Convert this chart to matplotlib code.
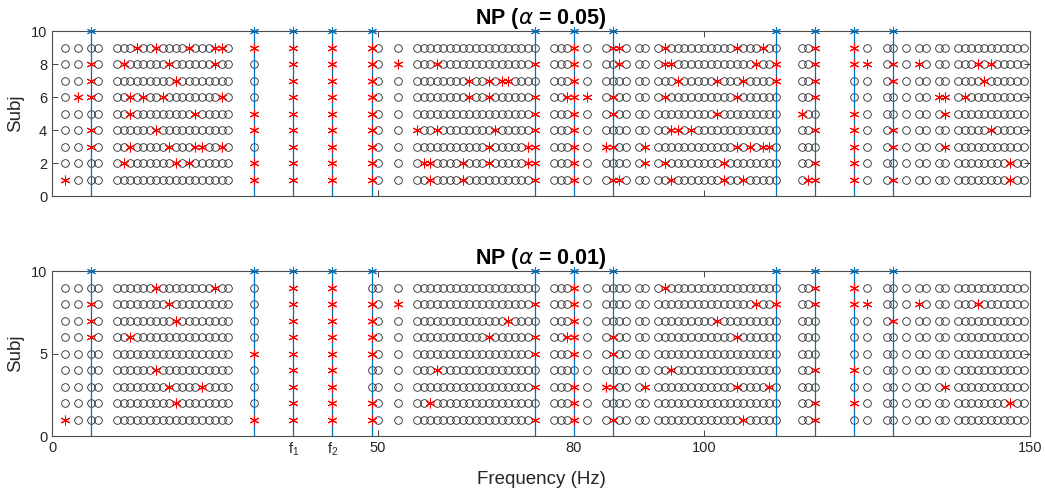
import matplotlib.pyplot as plt

plt.rcParams['font.family'] = ['Liberation Sans', 'DejaVu Sans']

# frequency bins (Hz) that were tested
freqs = ([2, 4, 6, 7] + list(range(10, 28)) + [31, 37, 43, 49, 50, 53]
         + list(range(56, 75)) + [77, 78, 79, 80, 82, 85, 86, 87, 88, 90, 91]
         + list(range(93, 112)) + [115, 116, 117, 123, 125, 128, 129, 131,
                                   133, 134, 136, 137] + list(range(139, 150)))

# intermodulation frequencies (f1 = 37, f2 = 43)
im_freqs = [6, 31, 37, 43, 49, 74, 80, 86, 111, 117, 123, 129]

subjects = [1, 2, 3, 4, 5, 6, 7, 8, 9]

# significant bins per subject, alpha = 0.05
sig_005 = {
    9: [13, 16, 21, 25, 26, 31, 37, 43, 49, 80, 86, 87, 94, 105, 109, 117, 123],
    8: [6, 11, 18, 25, 37, 43, 49, 53, 59, 74, 80, 87, 94, 95, 108, 111, 117,
        123, 125, 129, 133, 142, 144],
    7: [6, 19, 37, 43, 49, 64, 67, 69, 70, 80, 96, 102, 106, 111, 117, 129, 143],
    6: [4, 6, 12, 14, 17, 26, 37, 43, 49, 64, 67, 74, 79, 80, 82, 86, 94, 105,
        117, 136, 137, 140],
    5: [12, 22, 31, 37, 43, 49, 74, 80, 86, 102, 115, 123, 137],
    4: [6, 16, 31, 37, 43, 49, 56, 59, 68, 74, 80, 95, 96, 98, 117, 123, 129, 144],
    3: [6, 12, 18, 22, 23, 26, 37, 43, 49, 67, 73, 74, 80, 85, 86, 91, 105, 107,
        109, 110, 123, 129, 137],
    2: [11, 19, 21, 31, 37, 43, 49, 57, 58, 63, 67, 73, 74, 80, 91, 94, 103, 117,
        123, 147],
    1: [2, 31, 37, 43, 49, 58, 63, 74, 80, 86, 87, 95, 103, 106, 116, 117, 123,
        129, 147],
}

# significant bins per subject, alpha = 0.01
sig_001 = {
    9: [16, 25, 37, 43, 80, 94, 117, 123],
    8: [6, 18, 37, 43, 49, 53, 74, 80, 108, 111, 117, 123, 125, 133, 142],
    7: [6, 19, 37, 43, 49, 70, 80, 102, 129],
    6: [6, 12, 37, 43, 49, 67, 74, 79, 80, 86, 105],
    5: [31, 37, 43, 49, 74, 80, 86],
    4: [16, 37, 43, 59, 95, 117, 123],
    3: [18, 23, 37, 43, 74, 80, 85, 86, 91, 105, 110, 137],
    2: [19, 37, 43, 49, 58, 80, 117, 123, 147],
    1: [2, 31, 37, 43, 49, 74, 80, 86, 106, 117],
}

xtick_pos = [0, 37, 43, 50, 80, 100, 150]
xtick_lab = ['0', r'$\mathregular{f_1}$', r'$\mathregular{f_2}$', '50', '80', '100', '150']

BLUE = '#0072BD'
STAR = (6, 2, 0)


def draw_panel(ax, sig, title, yticks):
    for s in subjects:
        hits = sig[s]
        miss = [f for f in freqs if f not in hits]
        ax.plot(miss, [s] * len(miss), ls='none', marker='o', mfc='none',
                mec='0.15', ms=5.5, mew=0.6, zorder=2)
    for f in im_freqs:
        ax.axvline(f, color=BLUE, lw=0.9, zorder=3)
    ax.plot(im_freqs, [10] * len(im_freqs), ls='none', marker=STAR, color=BLUE,
            ms=6.5, mew=0.7, clip_on=False, zorder=5)
    for s in subjects:
        hits = sig[s]
        ax.plot(hits, [s] * len(hits), ls='none', marker=STAR, color='r',
                ms=7, mew=0.75, zorder=4)

    ax.set_xlim(0, 150)
    ax.set_ylim(0, 10)
    ax.set_yticks(yticks)
    ax.set_xticks(xtick_pos)
    ax.set_xticklabels(xtick_lab)
    ax.tick_params(direction='in', top=True, right=True, length=4, width=0.6,
                   colors='0.15', labelsize=10.5)
    for sp in ax.spines.values():
        sp.set_color('0.3')
        sp.set_linewidth(0.8)
    ax.set_title(title, fontweight='bold', fontsize=15.5, pad=5)
    ax.set_ylabel('Subj', fontsize=13.5, color='0.15', labelpad=5)


fig = plt.figure(figsize=(10.45, 4.93), dpi=100)
ax1 = fig.add_axes([0.0498, 0.6024, 0.9359, 0.3347])
ax2 = fig.add_axes([0.0498, 0.1156, 0.9359, 0.3347])

draw_panel(ax1, sig_005, r'NP ($\alpha$ = 0.05)', [0, 2, 4, 6, 8, 10])
ax1.set_xticklabels([])
draw_panel(ax2, sig_001, r'NP ($\alpha$ = 0.01)', [0, 5, 10])
ax2.set_xlabel('Frequency (Hz)', fontsize=13.5, color='0.15', labelpad=9)

fig.savefig('out.png', dpi=100)
